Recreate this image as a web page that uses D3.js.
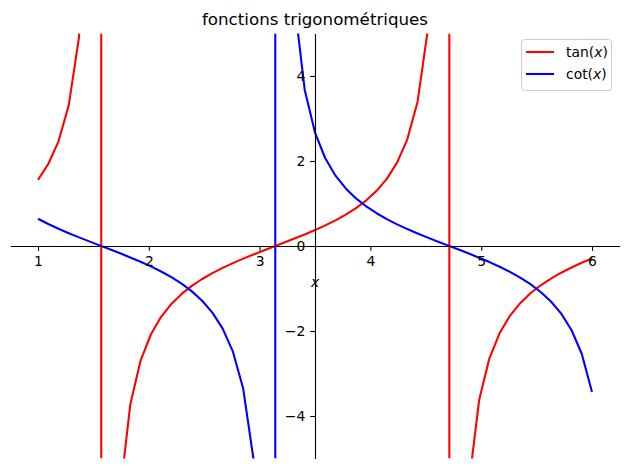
<!DOCTYPE html>
<html>
<head>
<meta charset="utf-8">
<script src="https://cdn.jsdelivr.net/npm/d3@7"></script>
<style>
  html, body { margin: 0; padding: 0; background: #fff; }
  svg { display: block; font-family: "DejaVu Sans", sans-serif; }
</style>
</head>
<body>
<svg id="chart" width="630" height="469"></svg>
<script>
// ---- data ----
const title = "fonctions trigonométriques";
const xs = [1.00000, 1.09259, 1.18519, 1.27778, 1.37037, 1.46296, 1.55556, 1.64815, 1.74074, 1.83333,
            1.92593, 2.01852, 2.11111, 2.20370, 2.29630, 2.38889, 2.48148, 2.57407, 2.66667, 2.75926,
            2.85185, 2.94444, 3.03704, 3.12963, 3.22222, 3.31481, 3.40741, 3.50000, 3.59259, 3.68519,
            3.77778, 3.87037, 3.96296, 4.05556, 4.14815, 4.24074, 4.33333, 4.42593, 4.51852, 4.61111,
            4.70370, 4.79630, 4.88889, 4.98148, 5.07407, 5.16667, 5.25926, 5.35185, 5.44444, 5.53704,
            5.62963, 5.72222, 5.81481, 5.90741, 6.00000];
const tanValues = [1.5574, 1.9298, 2.4634, 3.3145, 4.9223, 9.237, 65.61, -12.903, -5.8275, -3.7211,
                   -2.6944, -2.0822, -1.6671, -1.3632, -1.1276, -0.9367, -0.7763, -0.6375, -0.5142, -0.4021,
                   -0.2981, -0.1998, -0.1049, -0.0120, 0.0808, 0.1750, 0.2723, 0.3746, 0.4843, 0.6043,
                   0.7386, 0.8927, 1.0747, 1.2970, 1.5801, 1.9606, 2.5105, 3.3949, 5.0933, 9.8397,
                   115.09, -11.890, -5.6068, -3.6261, -2.6433, -2.0477, -1.6426, -1.3446, -1.1128, -0.9244,
                   -0.7658, -0.6283, -0.5059, -0.3945, -0.2910];
const cotValues = [0.6421, 0.5182, 0.4059, 0.3017, 0.2032, 0.1083, 0.0152, -0.0775, -0.1716, -0.2687,
                   -0.3711, -0.4803, -0.5999, -0.7336, -0.8869, -1.0676, -1.2882, -1.5687, -1.9448, -2.4868,
                   -3.3542, -5.0063, -9.5302, -83.6, 12.375, 5.7153, 3.6730, 2.6696, 2.0649, 1.6547,
                   1.3539, 1.1202, 0.9305, 0.7710, 0.6329, 0.5100, 0.3983, 0.2946, 0.1963, 0.1016,
                   0.0087, -0.0841, -0.1784, -0.2758, -0.3783, -0.4883, -0.6088, -0.7437, -0.8986, -1.0817,
                   -1.3058, -1.5916, -1.9766, -2.5347, -3.4364];
const tanPoles = [1.5708, 4.7124];
const cotPoles = [3.1416];
const xTicks = [1, 2, 3, 4, 5, 6];
const yTicks = [-4, -2, 0, 2, 4];
const xDomain = [0.75, 6.25];
const yDomain = [-5, 5];
const xCenter = 3.5;   // where the vertical spine sits (centre of x range)
const seriesNames = ["tan", "cot"];
const seriesColors = ["#ff0000", "#0000ff"];

// ---- layout ----
const W = 630, H = 469;
const plot = { left: 10.3, right: 619.7, top: 33.5, bottom: 458.5 };
const LW = 2.08, SPINE = 1.11, TICK = 4.86, PAD = 4.86;
const svg = d3.select("#chart");

const x = d3.scaleLinear().domain(xDomain).range([plot.left, plot.right]);
const y = d3.scaleLinear().domain(yDomain).range([plot.bottom, plot.top]);

svg.append("defs").append("clipPath").attr("id", "clip")
  .append("rect")
  .attr("x", plot.left).attr("y", plot.top)
  .attr("width", plot.right - plot.left).attr("height", plot.bottom - plot.top);

// build points with breaks at poles
function buildPoints(vals, poles) {
  const pts = [];
  for (let i = 0; i < xs.length; i++) {
    if (i > 0 && poles.some(p => p > xs[i - 1] && p < xs[i])) pts.push({ x: NaN, y: NaN, gap: true });
    pts.push({ x: xs[i], y: vals[i] });
  }
  return pts;
}

const line = d3.line()
  .defined(d => !d.gap)
  .x(d => x(d.x))
  .y(d => y(d.y));

const g = svg.append("g").attr("clip-path", "url(#clip)");

// pole lines
const poleSets = [tanPoles, cotPoles];
poleSets.forEach((poles, k) => {
  g.selectAll(null).data(poles).enter().append("line")
    .attr("x1", d => x(d)).attr("x2", d => x(d))
    .attr("y1", y(yDomain[0])).attr("y2", y(yDomain[1]))
    .attr("stroke", seriesColors[k]).attr("stroke-width", LW);
});

// curves
const valueSets = [tanValues, cotValues];
valueSets.forEach((vals, k) => {
  g.append("path")
    .datum(buildPoints(vals, poleSets[k]))
    .attr("d", line)
    .attr("fill", "none")
    .attr("stroke", seriesColors[k])
    .attr("stroke-width", LW)
    .attr("stroke-linejoin", "round")
    .attr("stroke-linecap", "butt");
});

// axes (centred spines)
const fmt = d => d < 0 ? "\u2212" + Math.abs(d) : String(d);
const xAxis = svg.append("g")
  .attr("transform", `translate(0,${y(0)})`)
  .call(d3.axisBottom(x).tickValues(xTicks).tickFormat(fmt).tickSize(TICK).tickSizeOuter(0).tickPadding(PAD));
const yAxis = svg.append("g")
  .attr("transform", `translate(${x(xCenter)},0)`)
  .call(d3.axisLeft(y).tickValues(yTicks).tickFormat(fmt).tickSize(TICK).tickSizeOuter(0).tickPadding(PAD));

[xAxis, yAxis].forEach(a => {
  a.select(".domain").attr("stroke", "#000").attr("stroke-width", SPINE);
  a.selectAll(".tick line").attr("stroke", "#000").attr("stroke-width", SPINE);
  a.selectAll(".tick text").attr("fill", "#000")
    .style("font-family", "DejaVu Sans").style("font-size", "13.9px");
});

// x label
svg.append("text")
  .attr("x", x(xCenter)).attr("y", 287)
  .attr("text-anchor", "middle")
  .style("font-family", "DejaVu Sans").style("font-style", "italic").style("font-size", "13.9px")
  .text("x");

// title
svg.append("text")
  .attr("x", (plot.left + plot.right) / 2).attr("y", 24.5)
  .attr("text-anchor", "middle")
  .style("font-family", "DejaVu Sans").style("font-size", "16.7px")
  .text(title);

// legend
const lg = svg.append("g");
lg.append("rect")
  .attr("x", 521.5).attr("y", 39.5).attr("width", 90).attr("height", 51)
  .attr("rx", 3).attr("ry", 3)
  .attr("fill", "#fff").attr("fill-opacity", 0.8)
  .attr("stroke", "#cccccc").attr("stroke-width", 1);
seriesNames.forEach((name, i) => {
  const yy = 52 + i * 22;
  lg.append("line")
    .attr("x1", 526).attr("x2", 554).attr("y1", yy).attr("y2", yy)
    .attr("stroke", seriesColors[i]).attr("stroke-width", LW);
  const t = lg.append("text")
    .attr("x", 566).attr("y", yy + 5)
    .style("font-family", "DejaVu Sans").style("font-size", "13.9px");
  t.append("tspan").text(name + "(");
  t.append("tspan").style("font-style", "italic").text("x");
  t.append("tspan").text(")");
});
</script>
</body>
</html>
